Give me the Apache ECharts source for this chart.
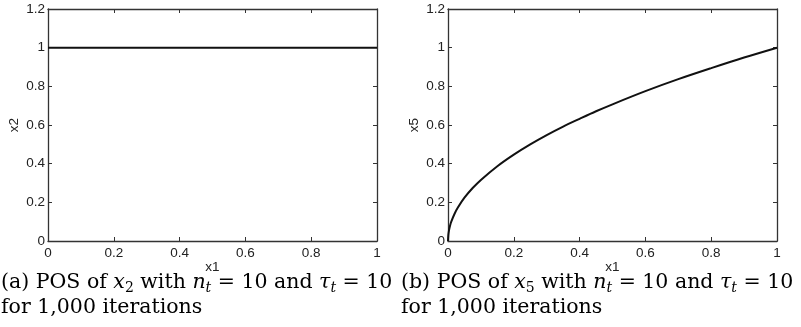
<!DOCTYPE html>
<html>
<head>
<meta charset="utf-8">
<script src="https://cdn.jsdelivr.net/npm/echarts@6/dist/echarts.min.js"></script>
<style>html,body{margin:0;padding:0;background:#fff}#c{width:801px;height:327px}</style>
</head>
<body>
<div id="c"></div>
<script>
// ---- data ----
var xTicks = [0, 0.2, 0.4, 0.6, 0.8, 1];
var yTicks = [0, 0.2, 0.4, 0.6, 0.8, 1, 1.2];
var x1A = [0, 0.1, 0.2, 0.3, 0.4, 0.5, 0.6, 0.7, 0.8, 0.9, 1];
var x2A = [1, 1, 1, 1, 1, 1, 1, 1, 1, 1, 1];
var x1B = [0, 0.001, 0.003, 0.006, 0.01, 0.02, 0.03, 0.05, 0.075, 0.1, 0.15, 0.2, 0.25, 0.3, 0.35, 0.4, 0.45, 0.5, 0.6, 0.7, 0.8, 0.9, 1];
var x5B = [0, 0.03, 0.055, 0.078, 0.1, 0.141, 0.173, 0.224, 0.274, 0.316, 0.387, 0.447, 0.5, 0.548, 0.592, 0.632, 0.671, 0.707, 0.775, 0.837, 0.894, 0.949, 1];
var yNames = ['x2', 'x5'];
var xName = 'x1';

var chart = echarts.init(document.getElementById('c'), null, {renderer: 'canvas'});
var axisCol = '#333';
var labelFont = {color: '#222', fontSize: 13.5, fontFamily: 'Liberation Sans, Arial, sans-serif'};

function pair(arrX, arrY) { return arrX.map(function (v, i) { return [v, arrY[i]]; }); }

var grids = [
  {left: 48, top: 9, width: 329, height: 232},
  {left: 448, top: 9, width: 329, height: 232}
];
var xAxes = [], yAxes = [];
[0, 1].forEach(function (g) {
  xAxes.push({
    type: 'value', gridIndex: g, min: 0, max: 1, interval: 0.2, position: 'bottom',
    name: xName, nameLocation: 'middle', nameGap: 26, nameMoveOverlap: false,
    nameTextStyle: Object.assign({verticalAlign: 'middle'}, labelFont),
    axisLine: {show: true, onZero: false, lineStyle: {color: axisCol, width: 1.3}},
    axisTick: {show: true, inside: true, length: 4, lineStyle: {color: axisCol}},
    axisLabel: Object.assign({margin: 5, formatter: function (v) { return String(+v.toFixed(1)); }}, labelFont),
    splitLine: {show: false}
  });
  xAxes.push({
    type: 'value', gridIndex: g, min: 0, max: 1, interval: 0.2, position: 'top',
    axisLine: {show: true, onZero: false, lineStyle: {color: axisCol, width: 1.3}},
    axisTick: {show: true, inside: true, length: 4, lineStyle: {color: axisCol}},
    axisLabel: {show: false}, splitLine: {show: false}
  });
  yAxes.push({
    type: 'value', gridIndex: g, min: 0, max: 1.2, interval: 0.2, position: 'left',
    name: yNames[g], nameLocation: 'middle', nameGap: 27, nameRotate: 90, nameMoveOverlap: false,
    nameTextStyle: labelFont,
    axisLine: {show: true, onZero: false, lineStyle: {color: axisCol, width: 1.3}},
    axisTick: {show: true, inside: true, length: 4, lineStyle: {color: axisCol}},
    axisLabel: Object.assign({margin: 3, formatter: function (v) { return String(+v.toFixed(1)); }}, labelFont),
    splitLine: {show: false}
  });
  yAxes.push({
    type: 'value', gridIndex: g, min: 0, max: 1.2, interval: 0.2, position: 'right',
    axisLine: {show: true, onZero: false, lineStyle: {color: axisCol, width: 1.3}},
    axisTick: {show: true, inside: true, length: 4, lineStyle: {color: axisCol}},
    axisLabel: {show: false}, splitLine: {show: false}
  });
});

var capFont = 'DejaVu Serif, serif';
var rich = {
  n: {fontSize: 20.5, fontFamily: capFont, color: '#111', lineHeight: 25},
  i: {fontSize: 20.5, fontFamily: capFont, fontStyle: 'italic', color: '#111', lineHeight: 25},
  s: {fontSize: 14, fontFamily: capFont, fontStyle: 'italic', color: '#111', lineHeight: 14, verticalAlign: 'bottom'},
  sn: {fontSize: 14, fontFamily: capFont, color: '#111', lineHeight: 14, verticalAlign: 'bottom'}
};
function caption(letter, sub) {
  return '{n|(' + letter + ') POS of }{i|x}{sn|' + sub + '}{n| with }{i|n}{s|t}{n| = 10 and }{i|τ}{s|t}{n| = 10}\n{n|for 1,000 iterations}';
}

chart.setOption({
  animation: false,
  grid: grids,
  xAxis: xAxes,
  yAxis: yAxes,
  series: [
    {type: 'line', xAxisIndex: 0, yAxisIndex: 0, data: pair(x1A, x2A), showSymbol: false,
     lineStyle: {color: '#111', width: 2}},
    {type: 'line', xAxisIndex: 2, yAxisIndex: 2, data: pair(x1B, x5B), showSymbol: false, smooth: 0.3,
     lineStyle: {color: '#111', width: 2}}
  ],
  graphic: [
    {type: 'text', left: 1, top: 272, style: {text: caption('a', '2'), rich: rich}},
    {type: 'text', left: 401, top: 272, style: {text: caption('b', '5'), rich: rich}}
  ]
});
</script>
</body>
</html>
